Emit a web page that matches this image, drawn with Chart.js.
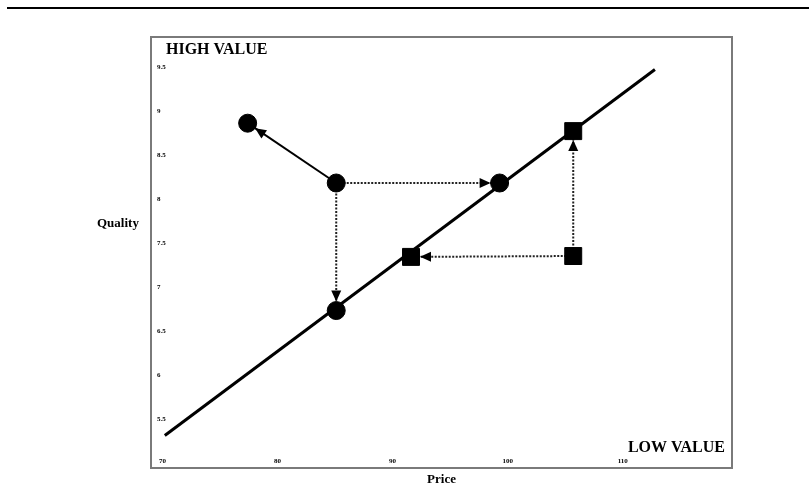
<!DOCTYPE html>
<html>
<head>
<meta charset="utf-8">
<script src="https://cdn.jsdelivr.net/npm/chart.js@4.4.1/dist/chart.umd.min.js"></script>
<style>
  html, body { margin: 0; padding: 0; background: #fff; }
</style>
</head>
<body>
<canvas id="c" width="809" height="485"></canvas>
<script>
// values
const xTicks = [70, 80, 90, 100, 110];
const yTicks = [5.5, 6, 6.5, 7, 7.5, 8, 8.5, 9, 9.5];

const circleX = [77.4, 85.1, 99.3, 85.1];
const circleY = [8.86, 8.18, 8.18, 6.73];

const squareX = [91.6, 105.7, 105.7];
const squareY = [7.34, 7.35, 8.77];

// value line (price = quality)
const lineX = [70.2, 112.8];
const lineY = [5.31, 9.47];

// arrows: start -> end (end marker shape)
const arrowStartX = [85.1, 85.1, 85.1, 105.7, 105.7];
const arrowStartY = [8.18, 8.18, 8.18, 7.35, 7.35];
const arrowEndX = [77.4, 99.3, 85.1, 91.6, 105.7];
const arrowEndY = [8.86, 8.18, 6.73, 7.34, 8.77];
const arrowEndShape = ['circle', 'circle', 'circle', 'rect', 'rect'];

const serif = '"Liberation Serif", "DejaVu Serif", serif';

const toPoints = (xs, ys) => xs.map((x, i) => ({ x: x, y: ys[i] }));

const datasets = [
  {
    data: toPoints(circleX, circleY),
    pointStyle: 'circle',
    pointRadius: 9,
    backgroundColor: '#000',
    borderColor: '#000',
    showLine: false
  },
  {
    data: toPoints(squareX, squareY),
    pointStyle: 'rect',
    pointRadius: 12,
    backgroundColor: '#000',
    borderColor: '#000',
    showLine: false
  }
];

arrowStartX.forEach((sx, i) => {
  const solid = i === 0;
  datasets.push({
    data: [{ x: sx, y: arrowStartY[i] }, { x: arrowEndX[i], y: arrowEndY[i] }],
    showLine: true,
    pointRadius: 0,
    borderColor: solid ? '#000' : '#222',
    borderWidth: 2,
    borderDash: solid ? [] : [2, 1.5],
    isArrow: true,
    arrowGap: arrowEndShape[i] === 'circle' ? 9 : 9
  });
});

datasets.push({
  data: toPoints(lineX, lineY),
  showLine: true,
  pointRadius: 0,
  borderColor: '#000',
  borderWidth: 3
});

// arrow heads at the end of each arrow segment
const arrowHeads = {
  id: 'arrowHeads',
  afterDatasetsDraw(chart) {
    const ctx = chart.ctx;
    chart.data.datasets.forEach((ds, i) => {
      if (!ds.isArrow) return;
      const pts = chart.getDatasetMeta(i).data;
      const a = pts[0], b = pts[1];
      const ang = Math.atan2(b.y - a.y, b.x - a.x);
      const tx = b.x - Math.cos(ang) * ds.arrowGap;
      const ty = b.y - Math.sin(ang) * ds.arrowGap;
      const len = 11, half = 5;
      ctx.save();
      ctx.translate(tx, ty);
      ctx.rotate(ang);
      ctx.beginPath();
      ctx.moveTo(0, 0);
      ctx.lineTo(-len, -half);
      ctx.lineTo(-len, half);
      ctx.closePath();
      ctx.fillStyle = '#000';
      ctx.fill();
      ctx.restore();
    });
  }
};

// frame, rule, tick labels and captions
const decorations = {
  id: 'decorations',
  beforeDraw(chart) {
    const ctx = chart.ctx;
    ctx.save();
    ctx.fillStyle = '#fff';
    ctx.fillRect(0, 0, chart.width, chart.height);
    ctx.restore();
  },
  afterDraw(chart) {
    const ctx = chart.ctx;
    const area = chart.chartArea;
    const xs = chart.scales.x, ys = chart.scales.y;
    ctx.save();

    // top rule
    ctx.strokeStyle = '#000';
    ctx.lineWidth = 2;
    ctx.beginPath();
    ctx.moveTo(7, 8);
    ctx.lineTo(chart.width, 8);
    ctx.stroke();

    // plot frame
    ctx.strokeStyle = '#7a7a7a';
    ctx.lineWidth = 2;
    ctx.strokeRect(area.left, area.top, area.right - area.left, area.bottom - area.top);

    // tick labels
    ctx.fillStyle = '#000';
    ctx.font = 'bold 7px ' + serif;
    ctx.textBaseline = 'middle';
    ctx.textAlign = 'left';
    yTicks.forEach(v => ctx.fillText(String(v), area.left + 6, ys.getPixelForValue(v)));
    ctx.textAlign = 'center';
    xTicks.forEach(v => ctx.fillText(String(v), xs.getPixelForValue(v), area.bottom - 7));

    // captions
    ctx.textBaseline = 'alphabetic';
    ctx.font = 'bold 16px ' + serif;
    ctx.textAlign = 'left';
    ctx.fillText('HIGH VALUE', area.left + 15, area.top + 17);
    ctx.textAlign = 'right';
    ctx.fillText('LOW VALUE', area.right - 7, area.bottom - 16);

    ctx.font = 'bold 13px ' + serif;
    ctx.textAlign = 'left';
    ctx.fillText('Quality', 97, 227);
    ctx.textAlign = 'center';
    ctx.fillText('Price', (area.left + area.right) / 2, 483);
    ctx.restore();
  }
};

new Chart(document.getElementById('c'), {
  type: 'scatter',
  data: { datasets: datasets },
  options: {
    responsive: false,
    animation: false,
    events: [],
    layout: { padding: { left: 151, top: 37, right: 77, bottom: 17 } },
    plugins: { legend: { display: false }, tooltip: { enabled: false } },
    scales: {
      x: { type: 'linear', min: 69, max: 119.5, display: false },
      y: { type: 'linear', min: 4.94, max: 9.84, display: false }
    }
  },
  plugins: [decorations, arrowHeads]
});
</script>
</body>
</html>
